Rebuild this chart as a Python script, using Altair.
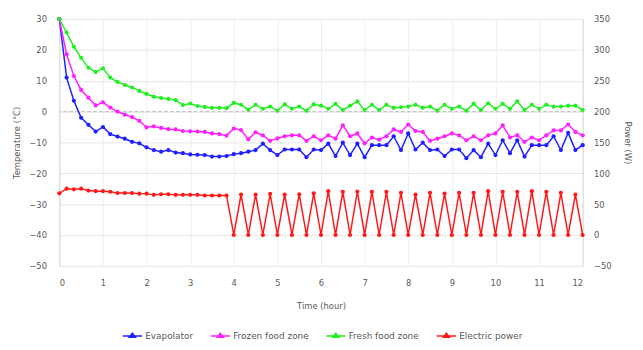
import altair as alt
import pandas as pd

# time in minutes, one sample every 10 minutes over 12 hours
minutes = list(range(0, 721, 10))

evapolator = [30, 11, 3.5, -2.0, -4.3, -6.5, -5.0, -7.3, -8.1, -8.8,
              -9.8, -10.3, -11.6, -12.5, -13.0, -12.5, -13.3, -13.5, -13.9, -14.0,
              -14.1, -14.6, -14.6, -14.4, -13.8, -13.5, -13.0, -12.5, -10.4, -12.5,
              -14.1, -12.3, -12.3, -12.3, -14.8, -12.3, -12.5, -10.4, -14.4, -10.1,
              -14.1, -10.4, -14.8, -10.9, -10.9, -10.9, -8.0, -12.5, -7.1, -12.3,
              -10.1, -12.5, -12.3, -14.4, -12.3, -12.3, -15.1, -12.5, -14.8, -10.4,
              -14.1, -9.3, -13.5, -9.3, -14.6, -10.9, -10.9, -10.9, -8.0, -12.5,
              -6.9, -12.5, -10.9]

frozen = [30, 18.5, 11.5, 7.0, 4.5, 2.0, 3.0, 1.3, 0.0, -1.0,
          -1.8, -3.0, -5.1, -4.8, -5.3, -5.7, -5.8, -6.3, -6.4, -6.5,
          -6.6, -7.1, -7.3, -7.8, -5.5, -6.0, -9.0, -6.7, -7.7, -9.5,
          -8.7, -8.0, -7.7, -7.7, -9.5, -8.0, -9.3, -7.7, -8.8, -4.5,
          -8.0, -7.1, -10.3, -8.4, -9.1, -8.0, -5.8, -6.6, -4.2, -6.3,
          -6.6, -9.5, -8.8, -8.0, -7.1, -7.7, -9.3, -8.0, -9.3, -7.7,
          -7.1, -4.5, -8.4, -7.7, -9.8, -8.4, -9.3, -7.7, -6.1, -6.1,
          -4.2, -6.6, -7.7]

fresh = [30, 25.6, 21.0, 17.4, 14.2, 12.8, 14.0, 11.0, 9.6, 8.6,
         7.8, 6.7, 5.7, 4.8, 4.4, 4.1, 3.7, 2.1, 2.6, 1.8,
         1.5, 1.2, 1.2, 1.1, 2.8, 2.2, 0.6, 2.2, 0.9, 1.6,
         0.3, 2.3, 0.9, 1.6, 0.3, 2.3, 1.9, 0.9, 2.5, 0.5,
         1.9, 3.3, 0.5, 2.2, 0.5, 2.2, 1.2, 1.4, 1.6, 2.2,
         1.2, 1.6, 0.3, 2.2, 0.9, 1.6, 0.3, 2.5, 0.5, 2.7,
         0.9, 2.5, 0.9, 3.3, 0.5, 2.2, 0.9, 2.2, 1.6, 1.6,
         1.9, 1.9, 0.5]

power = [67.5, 75, 74, 75, 72, 71, 71, 70, 68, 68,
         68, 67, 67, 65, 66, 66, 65, 65, 65, 65,
         64, 64, 64, 64, 0, 65.6, 0, 65.6, 0, 66.7,
         0, 65.6, 0, 66, 0, 67.5, 0, 71, 0, 70,
         0, 70.5, 0, 70, 0, 70, 0, 68.3, 0, 65.6,
         0, 68.3, 0, 67.2, 0, 68.3, 0, 68.3, 0, 71,
         0, 70, 0, 70, 0, 71, 0, 70, 0, 68.3,
         0, 65.6, 0]

series_names = ["Evapolator", "Frozen food zone", "Fresh food zone", "Electric power"]
series_colors = ["#1f1fff", "#ff1fff", "#22ee22", "#ff1a1a"]

x_ticks = list(range(0, 13))
temp_ticks = [-50, -40, -30, -20, -10, 0, 10, 20, 30]
power_ticks = [-50, 0, 50, 100, 150, 200, 250, 300, 350]

rows = []
for name, vals in zip(series_names[:3], [evapolator, frozen, fresh]):
    for m, v in zip(minutes, vals):
        rows.append({"hour": m / 60, "value": v, "series": name})
df_temp = pd.DataFrame(rows)
df_power = pd.DataFrame({"hour": [m / 60 for m in minutes], "value": power,
                         "series": series_names[3]})
df_zero = pd.DataFrame({"value": [0]})

FONT = "DejaVu Sans"
FS = 8.5
GRAY = "#595959"

color_scale = alt.Scale(domain=series_names, range=series_colors)
legend = alt.Legend(
    title=None, orient="none", legendX=63, legendY=310, direction="horizontal",
    symbolType="M-1,0H1M-0.3,0.12L0,-0.28L0.3,0.12Z", symbolSize=380,
    symbolStrokeWidth=1.6, columnPadding=14, labelFont=FONT, labelFontSize=9,
    labelColor=GRAY, labelOffset=2,
)

x_enc = alt.X(
    "hour:Q",
    scale=alt.Scale(domain=[0, 12], nice=False),
    axis=alt.Axis(values=x_ticks, title="Time (hour)", grid=True, gridColor="#efefef",
                  domain=False, ticks=False, labelPadding=13, titlePadding=15,
                  labelFont=FONT, labelFontSize=FS, labelColor=GRAY,
                  titleFont=FONT, titleFontSize=FS, titleColor=GRAY, titleFontWeight="normal"),
)

temp_axis = alt.Axis(values=temp_ticks, orient="left", title="Temperature (°C)",
                     grid=True, gridColor="#e6e6e6", domain=True, domainColor="#d6d6d6",
                     ticks=False, labelPadding=13, titlePadding=7,
                     labelFont=FONT, labelFontSize=FS, labelColor=GRAY,
                     titleFont=FONT, titleFontSize=FS, titleColor=GRAY,
                     titleFontWeight="normal")
temp_scale = alt.Scale(domain=[-50, 30], nice=False)

temp = alt.Chart(df_temp).mark_line(
    strokeWidth=1.5, point=alt.OverlayMarkDef(filled=True, size=18)
).encode(
    x=x_enc,
    y=alt.Y("value:Q", scale=temp_scale, axis=temp_axis),
    color=alt.Color("series:N", scale=color_scale, legend=legend),
    order="hour:Q",
)

zero_rule = alt.Chart(df_zero).mark_rule(color="#c4c4c4", strokeDash=[4, 2], strokeWidth=1).encode(
    y=alt.Y("value:Q", scale=temp_scale, axis=temp_axis)
)

left = alt.layer(zero_rule, temp)

pw = alt.Chart(df_power).mark_line(
    strokeWidth=1.5, point=alt.OverlayMarkDef(filled=True, size=18)
).encode(
    x=x_enc,
    y=alt.Y("value:Q", scale=alt.Scale(domain=[-50, 350], nice=False),
            axis=alt.Axis(values=power_ticks, orient="right", title="Power (W)",
                          grid=False, domain=True, domainColor="#d6d6d6",
                          ticks=False, labelPadding=11, titlePadding=11,
                          labelFont=FONT, labelFontSize=FS, labelColor=GRAY,
                          titleFont=FONT, titleFontSize=FS, titleColor=GRAY,
                          titleFontWeight="normal")),
    color=alt.Color("series:N", scale=color_scale, legend=legend),
    order="hour:Q",
)

chart = alt.layer(left, pw).resolve_scale(y="independent").properties(
    width=530, height=250,
    padding={"left": 52, "top": 9, "right": 53, "bottom": 74},
    autosize=alt.AutoSizeParams(type="none"),
    background="white",
).configure_view(stroke=None)

chart.save("out.html", embed_options={"renderer": "svg", "actions": False})
